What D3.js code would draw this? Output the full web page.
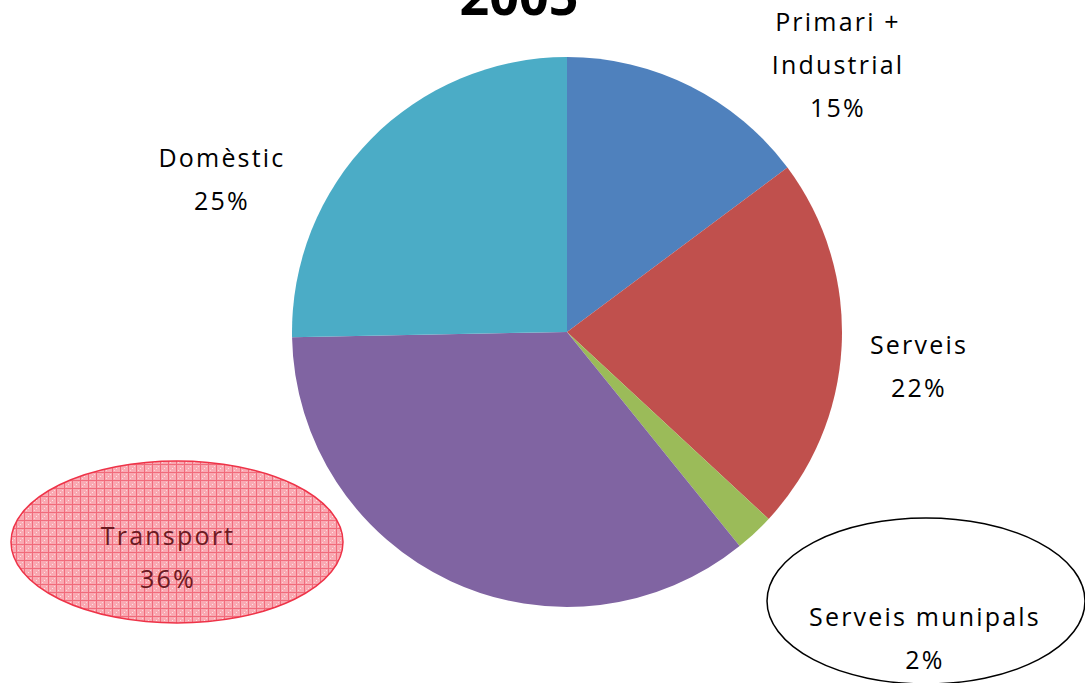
<!DOCTYPE html>
<html>
<head>
<meta charset="utf-8">
<script src="https://cdn.jsdelivr.net/npm/d3@7"></script>
<style>
  body { margin: 0; background: #fff; }
  svg text { font-family: "Open Sans", "Lato", sans-serif; }
</style>
</head>
<body>
<svg id="chart" width="1085" height="683"></svg>
<script>
// data
var title = "2005";
var categories = ["Primari +\nIndustrial", "Serveis", "Serveis munipals", "Transport", "Domèstic"];
var values = [14.8, 22.1, 2.3, 35.5, 25.3];
var colors = ["#4F81BD", "#C0504D", "#9BBB59", "#8064A2", "#4BACC6"];

// label anchors (centre of first line), hand placed like the original
var labelPos = [[838, 22], [919, 345], [925, 617], [168, 536], [222, 158]];

var svg = d3.select("#chart");
var cx = 567, cy = 332, radius = 275;

// grid pattern for the Transport callout
var defs = svg.append("defs");
var pat = defs.append("pattern")
    .attr("id", "grid")
    .attr("width", 8).attr("height", 8)
    .attr("patternUnits", "userSpaceOnUse");
pat.append("rect").attr("width", 8).attr("height", 8).attr("fill", "#f9a9b2");
pat.append("rect").attr("x", 0).attr("y", 0).attr("width", 8).attr("height", 1).attr("fill", "#f16b7b");
pat.append("rect").attr("x", 0).attr("y", 0).attr("width", 1).attr("height", 8).attr("fill", "#f16b7b");
pat.append("rect").attr("x", 4).attr("y", 4).attr("width", 1).attr("height", 1).attr("fill", "#fde3e6");
pat.append("rect").attr("x", 2).attr("y", 6).attr("width", 1).attr("height", 1).attr("fill", "#fcd6da");
pat.append("rect").attr("x", 6).attr("y", 2).attr("width", 1).attr("height", 1).attr("fill", "#fcd6da");

var pie = d3.pie().sort(null).value(function (d) { return d; });
var arc = d3.arc().innerRadius(0).outerRadius(radius);

var g = svg.append("g").attr("transform", "translate(" + cx + "," + cy + ")");
g.selectAll("path")
    .data(pie(values))
    .enter()
    .append("path")
    .attr("d", arc)
    .attr("fill", function (d, i) { return colors[i]; });

// callout shapes
svg.append("ellipse")
    .attr("cx", 177).attr("cy", 542).attr("rx", 166).attr("ry", 81)
    .attr("fill", "url(#grid)")
    .attr("stroke", "#ee3348").attr("stroke-width", 1.5);

svg.append("ellipse")
    .attr("cx", 926).attr("cy", 601).attr("rx", 159).attr("ry", 83)
    .attr("fill", "#fff")
    .attr("stroke", "#000").attr("stroke-width", 1.5);

// labels
var lineH = 43;
var labels = svg.append("g");
categories.forEach(function (name, i) {
    var lines = name.split("\n");
    lines.push(Math.round(values[i]) + "%");
    var t = labels.append("text")
        .attr("text-anchor", "middle")
        .attr("font-size", 25)
        .attr("letter-spacing", 2.2)
        .attr("fill", i === 3 ? "#6b1a22" : "#000");
    lines.forEach(function (ln, j) {
        t.append("tspan")
            .attr("x", labelPos[i][0])
            .attr("y", labelPos[i][1] + j * lineH)
            .attr("dy", "0.35em")
            .text(ln);
    });
});

svg.append("text")
    .attr("x", 519).attr("y", 15)
    .attr("text-anchor", "middle")
    .attr("font-size", 52)
    .attr("font-weight", "bold")
    .attr("fill", "#000")
    .text(title);
</script>
</body>
</html>
